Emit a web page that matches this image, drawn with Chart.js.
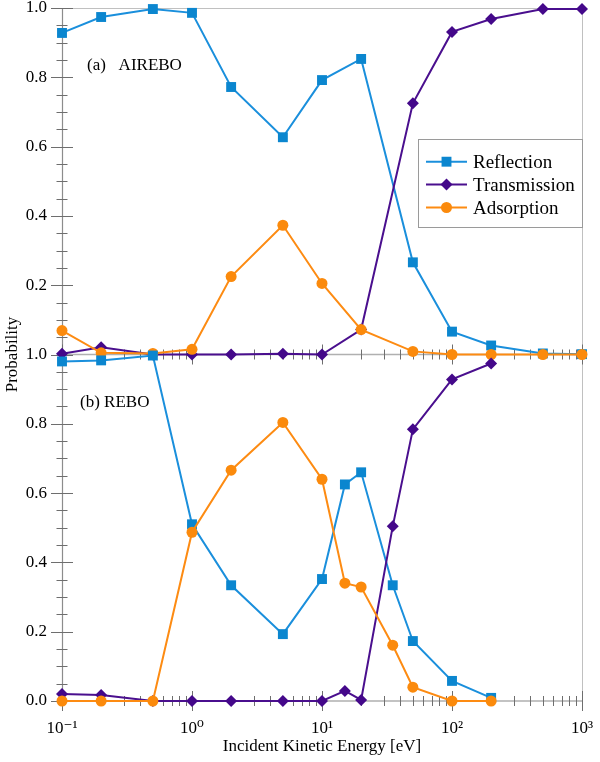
<!DOCTYPE html>
<html><head><meta charset="utf-8">
<script src="https://cdn.jsdelivr.net/npm/chart.js@4.4.0/dist/chart.umd.min.js"></script>
<style>html,body{margin:0;padding:0;background:#fff}#wrap{width:600px;height:762px;position:relative}</style>
</head><body><div id="wrap"><canvas id="c"></canvas></div>
<script>
// ---- data ----
const energyA = [0.1, 0.2, 0.5, 1, 2, 5, 10, 20, 50, 100, 200, 500, 1000];
const reflA   = [0.928, 0.974, 0.997, 0.986, 0.772, 0.627, 0.792, 0.853, 0.266, 0.066, 0.026, 0.003, 0.001];
const transA  = [0.002, 0.021, 0.0, 0.0, 0.0, 0.002, 0.0, 0.072, 0.725, 0.931, 0.968, 0.997, 0.997];
const adsA    = [0.069, 0.005, 0.003, 0.015, 0.225, 0.373, 0.205, 0.072, 0.009, 0.0, 0.0, 0.0, 0.0];

const energyB = [0.1, 0.2, 0.5, 1, 2, 5, 10, 15, 20, 35, 50, 100, 200];
const reflB   = [0.980, 0.983, 0.997, 0.510, 0.334, 0.193, 0.352, 0.625, 0.660, 0.334, 0.173, 0.058, 0.009];
const transB  = [0.020, 0.017, 0.0, 0.0, 0.0, 0.0, 0.0, 0.029, 0.003, 0.504, 0.784, 0.928, 0.974];
const adsB    = [0.0, 0.0, 0.0, 0.487, 0.666, 0.804, 0.640, 0.340, 0.329, 0.161, 0.040, 0.0, 0.0];

const seriesNames = ['Reflection', 'Transmission', 'Adsorption'];
const panelLabels = ['(a)   AIREBO', '(b) REBO'];
const xDecades = [0.1, 1, 10, 100, 1000];
const xTitle = 'Incident Kinetic Energy [eV]';
const yTitle = 'Probability';

// ---- styles ----
const FONT = '"Liberation Serif", "Times New Roman", "DejaVu Serif", serif';
const STY = [
  {line: '#1a8fdc', fill: '#0b86cf', style: 'rect', r: 7},
  {line: '#4a0f8e', fill: '#44088a', style: 'rectRot', r: 6},
  {line: '#fd8b12', fill: '#fb8a0c', style: 'circle', r: 5.5}
];

const pts = (xs, ys) => xs.map((x, i) => ({x: x, y: ys[i]}));
function ds(k, xs, ys, axis, order) {
  const s = STY[k];
  return {
    label: seriesNames[k], data: pts(xs, ys), yAxisID: axis, order: order,
    borderColor: s.line, backgroundColor: s.fill, borderWidth: 2, tension: 0,
    pointStyle: s.style, pointRadius: s.r, pointBackgroundColor: s.fill,
    pointBorderColor: s.fill, pointBorderWidth: 0, clip: false
  };
}
const datasets = [
  ds(0, energyA, reflA, 'yA', 6), ds(1, energyA, transA, 'yA', 5), ds(2, energyA, adsA, 'yA', 4),
  ds(0, energyB, reflB, 'yB', 3), ds(1, energyB, transB, 'yB', 2), ds(2, energyB, adsB, 'yB', 1)
];

const SUP = {'-': '\u207B', '0': '\u2070', '1': '\u00B9', '2': '\u00B2', '3': '\u00B3'};
function decadeLabel(v) {
  const e = Math.log10(v);
  const r = Math.round(e);
  if (Math.abs(e - r) > 1e-6) return null;
  return '10' + String(r).split('').map(c => SUP[c]).join('');
}
function noPad(s) { s.paddingTop = 0; s.paddingBottom = 0; s.paddingLeft = 0; s.paddingRight = 0; }

const framePlugin = {
  id: 'frame',
  beforeDatasetsDraw(chart) {
    const {ctx, chartArea: {left, right, top, bottom}, scales} = chart;
    const x = scales.x, yA = scales.yA, yB = scales.yB;
    const mid = yA.getPixelForValue(0);
    ctx.save();
    ctx.lineWidth = 1;
    ctx.strokeStyle = '#c0c0c0';
    ctx.beginPath();
    ctx.moveTo(left, Math.round(top) + 0.5); ctx.lineTo(right, Math.round(top) + 0.5);
    ctx.moveTo(Math.round(right) + 0.5, top); ctx.lineTo(Math.round(right) + 0.5, bottom);
    ctx.stroke();
    ctx.strokeStyle = '#b0b0b0';
    ctx.lineWidth = 1.6;
    ctx.beginPath();
    ctx.moveTo(left, mid); ctx.lineTo(right, mid);
    ctx.moveTo(left, bottom); ctx.lineTo(right, bottom);
    ctx.stroke();
    ctx.strokeStyle = '#8c8c8c';
    ctx.lineWidth = 1.2;
    ctx.beginPath();
    ctx.moveTo(Math.round(left) + 0.5, top); ctx.lineTo(Math.round(left) + 0.5, bottom);
    ctx.stroke();
    ctx.strokeStyle = '#6e6e6e';
    ctx.lineWidth = 1;
    ctx.beginPath();
    for (let d = 0; d < xDecades.length; d++) {
      for (let m = 1; m <= 9; m++) {
        if (d === xDecades.length - 1 && m > 1) break;
        const v = xDecades[d] * m;
        const px = Math.round(x.getPixelForValue(v)) + 0.5;
        const len = m === 1 ? 10 : 5;
        [mid, bottom].forEach(yy => { ctx.moveTo(px, yy - len); ctx.lineTo(px, yy + len); });
      }
    }
    [yA, yB].forEach(sc => {
      for (let k = 0; k <= 20; k++) {
        const py = Math.round(sc.getPixelForValue(k * 0.05)) + 0.5;
        const len = k % 4 === 0 ? 11 : 5.5;
        ctx.moveTo(left - len, py); ctx.lineTo(left + len, py);
      }
    });
    ctx.stroke();
    ctx.restore();
  },
  afterDraw(chart) {
    const {ctx, scales} = chart;
    const mid = scales.yA.getPixelForValue(0);
    ctx.save();
    ctx.fillStyle = '#000';
    ctx.font = '17px ' + FONT;
    ctx.textAlign = 'center';
    ctx.textBaseline = 'middle';
    ctx.translate(13, mid);
    ctx.rotate(-Math.PI / 2);
    ctx.fillText(yTitle, 0, 0);
    ctx.restore();

    ctx.save();
    ctx.fillStyle = '#000';
    ctx.font = '17px ' + FONT;
    ctx.textAlign = 'left';
    ctx.textBaseline = 'alphabetic';
    ctx.fillText(panelLabels[0], 87, 70);
    ctx.fillText(panelLabels[1], 80, 407);

    const bx = 418.5, by = 139.5, bw = 164, bh = 88;
    ctx.fillStyle = '#fff';
    ctx.fillRect(bx, by, bw, bh);
    ctx.strokeStyle = '#9a9a9a';
    ctx.lineWidth = 1;
    ctx.strokeRect(bx, by, bw, bh);
    const rows = [161.7, 184.5, 207.5];
    ctx.font = '19px ' + FONT;
    for (let k = 0; k < 3; k++) {
      const s = STY[k];
      ctx.strokeStyle = s.line;
      ctx.lineWidth = 2;
      ctx.beginPath();
      ctx.moveTo(426, rows[k]); ctx.lineTo(467, rows[k]);
      ctx.stroke();
      ctx.fillStyle = s.fill;
      ctx.strokeStyle = s.fill;
      Chart.helpers.drawPoint(ctx, {pointStyle: s.style, radius: s.r, borderWidth: 0, rotation: 0}, 446.5, rows[k]);
      ctx.fillStyle = '#000';
      ctx.fillText(seriesNames[k], 473, rows[k] + 6);
    }
    ctx.restore();
  }
};

const yScale = (callback) => ({
  type: 'linear', position: 'left', stack: 'panels', stackWeight: 1,
  min: 0, max: 1, offset: false,
  afterFit: s => { s.width = 62; noPad(s); },
  grid: {display: false, drawTicks: false},
  border: {display: false},
  ticks: {
    stepSize: 0.2, padding: 15, color: '#000',
    font: {family: FONT, size: 17},
    callback: callback
  }
});

new Chart(document.getElementById('c'), {
  type: 'line',
  data: {datasets: datasets},
  options: {
    responsive: true, maintainAspectRatio: false, animation: false, events: [],
    layout: {padding: {top: 8, right: 18, left: 0, bottom: 0}},
    plugins: {legend: {display: false}, tooltip: {enabled: false}},
    scales: {
      x: {
        type: 'logarithmic', position: 'bottom', min: 0.1, max: 1000,
        afterFit: s => { s.height = 61; noPad(s); },
        grid: {display: false, drawTicks: false},
        border: {display: false},
        ticks: {
          autoSkip: false, maxRotation: 0, padding: 17, color: '#000',
          font: {family: FONT, size: 17},
          callback: v => decadeLabel(v)
        },
        title: {display: true, text: xTitle, color: '#000', font: {family: FONT, size: 17}, padding: {top: 0, bottom: 5}}
      },
      yB: yScale(v => v.toFixed(1)),
      yA: yScale(v => (Math.abs(v) < 1e-9 ? null : v.toFixed(1)))
    }
  },
  plugins: [framePlugin]
});
</script>
</body></html>
